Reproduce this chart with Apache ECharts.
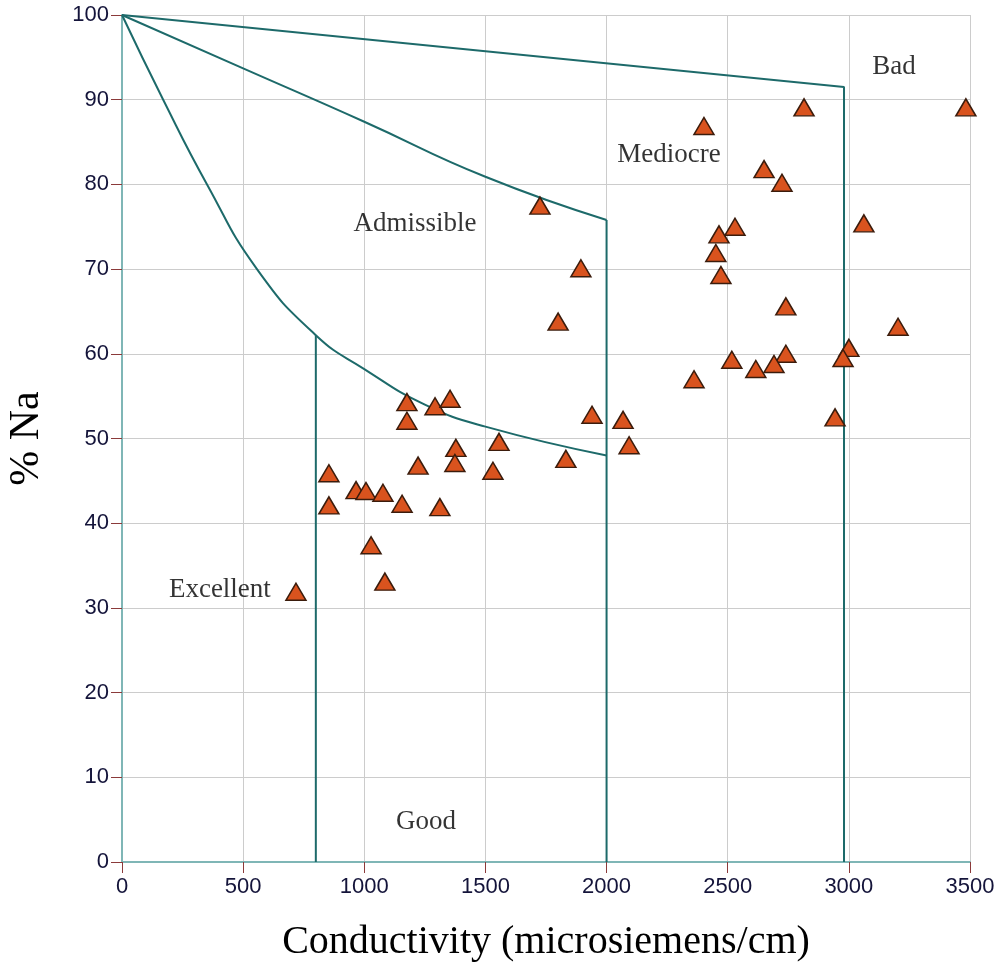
<!DOCTYPE html>
<html>
<head>
<meta charset="utf-8">
<script src="https://cdn.jsdelivr.net/npm/echarts@6/dist/echarts.min.js"></script>
<style>
	html, body { margin: 0; padding: 0; background: #fff; }
	#chart { width: 1001px; height: 973px; }
</style>
</head>
<body>
<div id="chart"></div>
<script>
// sample points: [conductivity, %Na]
var samples = [
	[718, 31.9], [854, 45.9], [854, 42.1], [966, 43.9], [1007, 43.8], [1077, 43.6],
	[1156, 42.3], [1222, 46.8], [1312, 41.9], [1378, 48.9], [1374, 47.1], [1556, 49.6],
	[1531, 46.2], [1028, 37.4], [1085, 33.1], [1176, 54.3], [1176, 52.1], [1292, 53.8],
	[1354, 54.7], [1725, 77.5], [1894, 70.1], [1800, 63.8], [1940, 52.8], [1832, 47.6],
	[2068, 52.2], [2093, 49.2], [2815, 89.1], [3483, 89.1], [2402, 86.9], [2650, 81.8],
	[2724, 80.2], [2530, 75.0], [2464, 74.1], [2451, 71.9], [2472, 69.3], [3062, 75.4],
	[2740, 65.6], [3203, 63.2], [3000, 60.7], [2976, 59.5], [2740, 60.0], [2517, 59.3],
	[2691, 58.8], [2616, 58.2], [2361, 57.0], [2943, 52.5]
];

// class boundaries (Wilcox diagram)
var badLine = [[0, 100], [2980, 91.5], [2980, 0]];
var mediocreCurve = [[0, 100], [500, 93.7], [1000, 87.4], [1500, 80.9], [2000, 75.8]];
var mediocreEdge = [[2000, 75.8], [2000, 0]];
var goodCurve = [[0, 100], [170, 90], [351, 80], [557, 70], [800, 62.2],
	[1000, 58.2], [1250, 54], [1500, 51.4], [2000, 48]];
var excellentEdge = [[800, 62.2], [800, 0]];

// zone names placed in data space
var zoneLabels = [
	[404, 32.1, "Excellent"],
	[1255, 4.7, "Good"],
	[1209, 75.3, "Admissible"],
	[2258, 83.5, "Mediocre"],
	[3186, 93.9, "Bad"]
];

var xTicks = [0, 500, 1000, 1500, 2000, 2500, 3000, 3500];
var yTicks = [0, 10, 20, 30, 40, 50, 60, 70, 80, 90, 100];

var boundaryColor = "#1d6a6a";
var serif = "'Liberation Serif', 'Times New Roman', serif";
var sans = "'Liberation Sans', Arial, sans-serif";

function boundary(data, smooth) {
	return {
		type: "line",
		data: data,
		smooth: smooth ? 0.5 : false,
		symbol: "none",
		silent: true,
		lineStyle: { color: boundaryColor, width: 2 },
		z: 3
	};
}

var chart = echarts.init(document.getElementById("chart"));
chart.setOption({
	animation: false,
	backgroundColor: "#fff",
	grid: { left: 122, top: 15, right: 31, bottom: 111, outerBoundsMode: "none", containLabel: false },
	xAxis: {
		type: "value",
		min: xTicks[0],
		max: xTicks[xTicks.length - 1],
		interval: 500,
		name: "Conductivity (microsiemens/cm)",
		nameLocation: "middle",
		nameGap: 60,
		nameTextStyle: { fontFamily: serif, fontSize: 40, color: "#000" },
		axisLine: { lineStyle: { color: "#7fb6b6", width: 2 } },
		axisTick: { length: 11, lineStyle: { color: "#8b3a3a", width: 1 } },
		axisLabel: {
			margin: 14, fontFamily: sans, fontSize: 22, color: "#14143a",
			formatter: function (v) { return String(v); }
		},
		splitLine: { lineStyle: { color: "#cccccc", width: 1 } }
	},
	yAxis: {
		type: "value",
		min: yTicks[0],
		max: yTicks[yTicks.length - 1],
		interval: 10,
		name: "% Na",
		nameLocation: "middle",
		nameRotate: 90,
		nameGap: 74,
		nameTextStyle: { fontFamily: serif, fontSize: 42, color: "#000" },
		axisLine: { lineStyle: { color: "#7fb6b6", width: 2 } },
		axisTick: { length: 11, lineStyle: { color: "#8b3a3a", width: 1 } },
		axisLabel: {
			margin: 13, fontFamily: sans, fontSize: 22, color: "#14143a",
			formatter: function (v) { return String(v); }
		},
		splitLine: { lineStyle: { color: "#cccccc", width: 1 } }
	},
	series: [
		boundary(badLine, false),
		boundary(mediocreCurve, true),
		boundary(mediocreEdge, false),
		boundary(goodCurve, true),
		boundary(excellentEdge, false),
		{
			type: "scatter",
			data: samples,
			symbol: "triangle",
			symbolSize: [20, 17],
			itemStyle: { color: "#d9531e", borderColor: "#3b1c0c", borderWidth: 1.5, opacity: 1 },
			z: 5
		},
		{
			type: "scatter",
			data: zoneLabels,
			symbolSize: 0,
			silent: true,
			itemStyle: { color: "#000" },
			label: {
				show: true,
				position: "inside",
				formatter: function (p) { return p.value[2]; },
				fontFamily: serif,
				fontSize: 27,
				color: "#000",
				textBorderWidth: 0
			},
			z: 6
		}
	]
});
</script>
</body>
</html>
